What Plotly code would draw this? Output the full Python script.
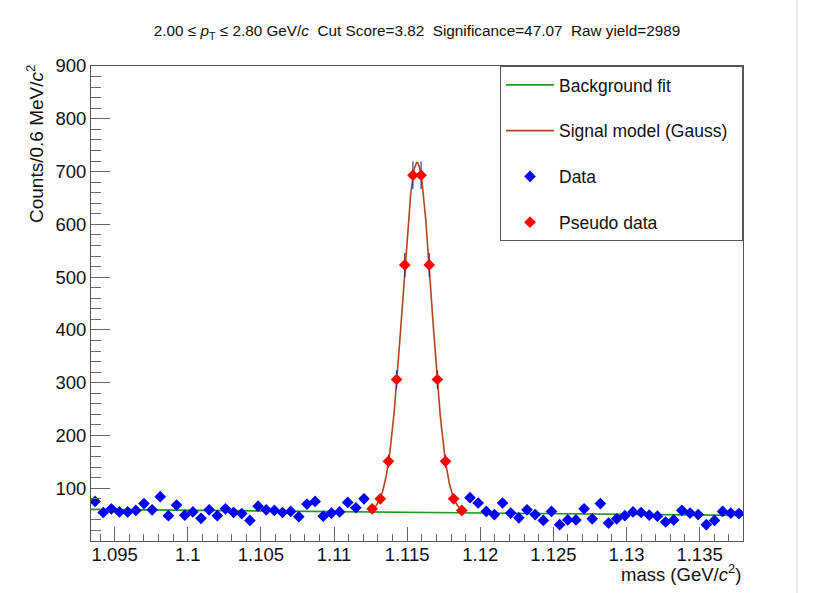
import numpy as np
import plotly.graph_objects as go

# Histogram binning of the invariant-mass window
mass_lo = 1.09338
mass_hi = 1.13797
n_bins = 80

# Counts per bin: sidebands (real data) and signal region (pseudo data)
data_counts_left = [75, 54, 61, 55, 55, 58, 71, 59, 84, 48, 68, 49, 55, 43, 59, 48, 61,
                    54, 52, 39, 66, 59, 58, 54, 56, 46, 70, 75, 47, 53, 55, 73, 63, 80]
pseudo_counts = [61, 80, 151, 306, 523, 693, 693, 523, 306, 151, 80, 58]
data_counts_right = [82, 72, 56, 50, 72, 53, 44, 59, 50, 39, 56, 31, 40, 40, 61, 42, 71,
                     34, 42, 48, 55, 54, 49, 47, 36, 40, 58, 53, 50, 31, 39, 56, 53, 52]

# Fit results
bkg_p0 = 342.1        # linear background: p0 + p1*m
bkg_p1 = -258.0
sig_amp = 663.0       # Gaussian signal on top of background
sig_mean = 1.11568
sig_sigma = 0.00099

title_text = ("2.00 \u2264 <i>p</i><sub>T</sub> \u2264 2.80 GeV/<i>c</i>\u00a0\u00a0Cut Score=3.82"
              "\u00a0\u00a0Significance=47.07\u00a0\u00a0Raw yield=2989")

bin_width = (mass_hi - mass_lo) / n_bins
centers = mass_lo + (np.arange(n_bins) + 0.5) * bin_width
n_left = len(data_counts_left)
n_sig = len(pseudo_counts)
x_left = centers[:n_left]
x_sig = centers[n_left:n_left + n_sig]
x_right = centers[n_left + n_sig:]

x_data = np.concatenate([x_left, x_right])
y_data = np.array(data_counts_left + data_counts_right, dtype=float)
y_pseudo = np.array(pseudo_counts, dtype=float)


def background(m):
    return bkg_p0 + bkg_p1 * m


def signal_model(m):
    return background(m) + sig_amp * np.exp(-0.5 * ((m - sig_mean) / sig_sigma) ** 2)


m_bkg = np.linspace(mass_lo, mass_hi, 200)
m_sig = np.linspace(x_sig[0], x_sig[-1], 300)

err_color = "#16168c"
font_family = "Liberation Sans, Arial, sans-serif"
pad = "\u00a0" * 2   # extra room on the right of the legend entries

fig = go.Figure()

fig.add_trace(go.Scatter(
    x=m_bkg, y=background(m_bkg), mode="lines",
    line=dict(color="#1e9a1e", width=1.6),
    name="Background fit", legendgroup="a", legendrank=1,
))
fig.add_trace(go.Scatter(
    x=x_data, y=y_data, mode="markers",
    marker=dict(symbol="diamond", size=9, color="#0000ff"),
    error_y=dict(type="data", array=np.sqrt(y_data), color=err_color, thickness=1, width=0),
    name="Data", legendgroup="c", legendrank=3,
))
fig.add_trace(go.Scatter(
    x=m_sig, y=signal_model(m_sig), mode="lines",
    line=dict(color="#b4451b", width=1.6),
    name="Signal model (Gauss)" + pad, legendgroup="b", legendrank=2,
))
fig.add_trace(go.Scatter(
    x=x_sig, y=y_pseudo, mode="markers",
    marker=dict(symbol="diamond", size=9, color="#ff0000"),
    error_y=dict(type="data", array=np.sqrt(y_pseudo), color=err_color, thickness=1, width=0),
    name="Pseudo data", legendgroup="d", legendrank=4,
))

axis_common = dict(
    showline=True, linecolor="#555555", linewidth=1, mirror=True,
    ticks="inside", tickcolor="#666666", tickwidth=1,
    showgrid=False, zeroline=False,
    tickfont=dict(family=font_family, size=18.5, color="#111111"),
)

fig.update_xaxes(
    range=[mass_lo, mass_hi], tick0=1.095, dtick=0.005, ticklen=14,
    tickformat="~g", ticklabelstandoff=-3,
    minor=dict(dtick=0.001, tick0=1.095, ticks="inside", ticklen=7, tickcolor="#666666"),
    **axis_common,
)
fig.update_yaxes(
    range=[0, 900], tick0=0, dtick=100, ticklen=19,
    tickvals=list(range(100, 1000, 100)),
    minor=dict(dtick=20, tick0=0, ticks="inside", ticklen=10, tickcolor="#666666"),
    **axis_common,
)

fig.update_layout(
    width=813, height=593,
    margin=dict(l=91, r=70, t=66, b=52),
    paper_bgcolor="white", plot_bgcolor="white",
    font=dict(family=font_family, color="#111111"),
    title=dict(text=title_text, x=0.5, xref="paper", xanchor="center",
               y=1 - 31 / 593, yanchor="middle",
               font=dict(family=font_family, size=15.3, color="#111111")),
    showlegend=True,
    legend=dict(
        x=1, xanchor="right", y=1, yanchor="top",
        bgcolor="white", bordercolor="#555555", borderwidth=1,
        font=dict(family=font_family, size=17.5, color="#111111"),
        itemwidth=48, tracegroupgap=20, traceorder="grouped",
    ),
    shapes=[
        dict(type="line", xref="paper", yref="paper",
             x0=(797 - 91) / 652, x1=(797 - 91) / 652, y0=-52 / 475, y1=1 + 66 / 475,
             line=dict(color="#d6d6d6", width=1)),
    ],
    annotations=[
        dict(text="mass (GeV/<i>c</i><sup>2</sup>)", xref="paper", yref="paper",
             x=1, y=-32 / 475, xanchor="right", yanchor="middle", showarrow=False,
             font=dict(family=font_family, size=18.5, color="#111111")),
        dict(text="Counts/0.6 MeV/<i>c</i><sup>2</sup>", xref="paper", yref="paper",
             x=-56 / 652, y=1 + 3 / 475, xanchor="center", yanchor="top", textangle=-90,
             showarrow=False,
             font=dict(family=font_family, size=19, color="#111111")),
    ],
)

fig.write_html("out.html")
